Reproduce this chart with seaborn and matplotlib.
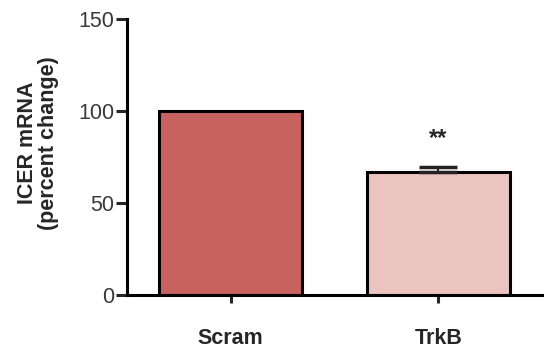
import matplotlib
matplotlib.use("Agg")
import matplotlib.pyplot as plt
import seaborn as sns
import pandas as pd

groups = ["Scram", "TrkB"]
icer_mrna = [100.0, 67.0]
icer_sem = [0.0, 2.5]
bar_colors = ["#C8625E", "#EBC4C0"]
significance = ["", "**"]

sns.set_style("ticks")
plt.rcParams["font.family"] = ["Liberation Sans", "DejaVu Sans"]

df = pd.DataFrame({"group": groups, "value": icer_mrna})

fig = plt.figure(figsize=(5.47, 3.56), dpi=100)
ax = fig.add_axes([127 / 547, 1 - 295 / 356, (542 - 127) / 547, (295 - 19) / 356])

sns.barplot(data=df, x="group", y="value", hue="group", palette=bar_colors,
            saturation=1, width=0.69, edgecolor="black", linewidth=2.2,
            legend=False, ax=ax, errorbar=None)

# SEM error bars (upper only) and significance stars
for i, (v, e) in enumerate(zip(icer_mrna, icer_sem)):
    if e > 0:
        ax.errorbar(i, v, yerr=[[0], [e]], fmt="none", ecolor="#222222",
                    elinewidth=1.5, capsize=14, capthick=2.5, zorder=5)
    if significance[i]:
        ax.text(i, 81.5, significance[i], ha="center", va="baseline",
                fontsize=17, fontweight="bold")

ax.set_xlim(-0.5, 1.5)
ax.set_ylim(0, 150)
ax.set_yticks([0, 50, 100, 150])
ax.set_xlabel("")
ax.set_ylabel("ICER mRNA\n(percent change)", fontsize=15.5, fontweight="bold",
              labelpad=14, linespacing=1.0)
ax.yaxis.label.set_y(0.55)

for s in ["top", "right"]:
    ax.spines[s].set_visible(False)
for s in ["left", "bottom"]:
    ax.spines[s].set_linewidth(2.2)
    ax.spines[s].set_color("black")

ax.tick_params(axis="y", width=2.2, length=8, labelsize=15.5, labelcolor="#3a3a3a", pad=1)
ax.tick_params(axis="x", width=2.2, length=6, labelsize=15.5, pad=18)
for lbl in ax.get_xticklabels():
    lbl.set_fontweight("bold")

fig.savefig("out.png", dpi=100)
